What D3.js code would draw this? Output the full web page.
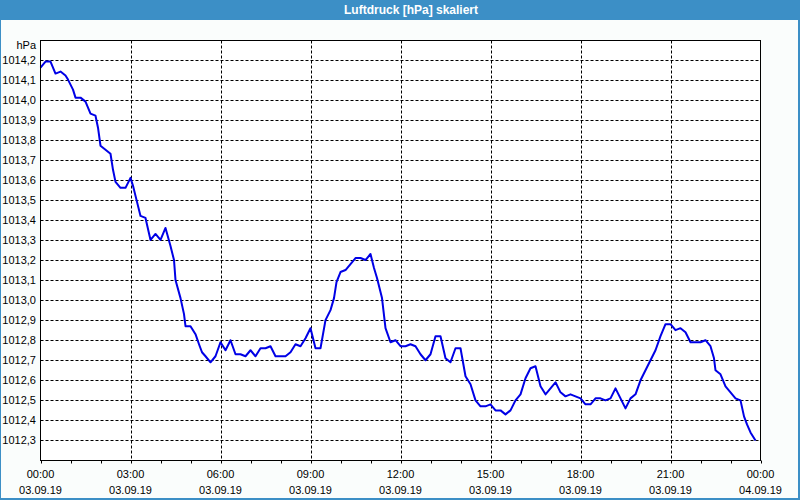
<!DOCTYPE html>
<html><head><meta charset="utf-8">
<script src="https://cdnjs.cloudflare.com/ajax/libs/d3/7.8.5/d3.min.js"></script>
<style>
html,body{margin:0;padding:0;background:#fff;}
svg{display:block;}
text{font-family:"Liberation Sans",Arial,sans-serif;}
</style></head>
<body>
<script>
const title = "Luftdruck [hPa] skaliert";
const unitLabel = "hPa";
// minutes after 03.09.19 00:00
const minutes = [0,10,20,30,40,50,55,65,70,80,90,100,110,115,120,130,140,145,150,160,170,180,185,192,200,210,220,230,240,250,260,267,270,280,287,290,300,310,317,323,330,340,350,360,370,380,390,
400,410,420,430,440,450,460,470,480,490,500,510,520,530,540,550,560,570,580,587,592,600,610,620,630,640,650,660,667,673,683,690,700,710,720,730,740,750,760,770,780,
790,800,810,820,830,840,850,860,870,880,890,900,910,920,930,940,950,960,970,980,990,1000,1010,1020,1030,1040,1050,1060,1070,1080,1090,1100,1110,1120,1130,1140,1150,1160,
1170,1180,1190,1200,1210,1220,1230,1240,1250,1260,1270,1280,1290,1300,1310,1320,1330,1340,1347,1350,1360,1370,1380,1390,1400,1407,1413,1420,1430];
const pressure = [1014.16,1014.19,1014.19,1014.13,1014.14,1014.12,1014.10,1014.05,1014.01,1014.01,1013.99,1013.93,1013.92,1013.86,1013.77,1013.75,1013.73,1013.65,1013.59,1013.56,1013.56,1013.61,1013.57,1013.50,1013.42,1013.41,1013.30,1013.33,1013.30,1013.36,1013.27,1013.20,1013.10,1013.01,1012.93,1012.87,1012.87,1012.83,1012.78,1012.74,1012.72,1012.69,1012.72,1012.79,1012.75,1012.80,1012.73,
1012.73,1012.72,1012.75,1012.72,1012.76,1012.76,1012.77,1012.72,1012.72,1012.72,1012.74,1012.78,1012.77,1012.81,1012.86,1012.76,1012.76,1012.90,1012.95,1013.01,1013.09,1013.14,1013.15,1013.18,1013.21,1013.21,1013.20,1013.23,1013.16,1013.11,1013.01,1012.86,1012.79,1012.80,1012.77,1012.77,1012.78,1012.77,1012.73,1012.70,1012.73,
1012.82,1012.82,1012.71,1012.69,1012.76,1012.76,1012.62,1012.58,1012.50,1012.47,1012.47,1012.48,1012.45,1012.45,1012.43,1012.45,1012.50,1012.53,1012.61,1012.66,1012.67,1012.57,1012.53,1012.56,1012.59,1012.54,1012.52,1012.53,1012.52,1012.51,1012.48,1012.48,1012.51,1012.51,1012.50,1012.51,1012.56,1012.51,
1012.46,1012.51,1012.53,1012.60,1012.65,1012.70,1012.75,1012.82,1012.88,1012.88,1012.85,1012.86,1012.84,1012.79,1012.79,1012.79,1012.80,1012.77,1012.71,1012.65,1012.63,1012.57,1012.54,1012.51,1012.50,1012.42,1012.38,1012.34,1012.30];
const yTicks = [1012.3,1012.4,1012.5,1012.6,1012.7,1012.8,1012.9,1013.0,1013.1,1013.2,1013.3,1013.4,1013.5,1013.6,1013.7,1013.8,1013.9,1014.0,1014.1,1014.2];
const xTickTimes = ["00:00","03:00","06:00","09:00","12:00","15:00","18:00","21:00","00:00"];
const xTickDates = ["03.09.19","03.09.19","03.09.19","03.09.19","03.09.19","03.09.19","03.09.19","03.09.19","04.09.19"];

const W = 800, H = 500;
const L = 40.5, R = 760.5, T = 40.5, B = 460.5;
const svg = d3.select("body").append("svg").attr("width", W).attr("height", H);

// frame & title
svg.append("rect").attr("x",0).attr("y",0).attr("width",W).attr("height",H).attr("fill","#3c8fc6");
svg.append("rect").attr("x",1).attr("y",20).attr("width",W-3).attr("height",H-22).attr("fill","#fafdfc");
svg.append("text").attr("x",411).attr("y",13.5).attr("text-anchor","middle")
  .attr("fill","#fff").attr("font-weight","bold").attr("font-size","12px").text(title);

const x = d3.scaleLinear().domain([0, 1440]).range([L, R]);
const y = d3.scaleLinear().domain([1012.2, 1014.3]).range([B, T - 1]);

svg.append("rect").attr("x",L).attr("y",T).attr("width",R-L).attr("height",B-T).attr("fill","#fff");

// horizontal grid
svg.append("g").selectAll("line").data(yTicks).join("line")
  .attr("x1",L).attr("x2",R)
  .attr("y1",d=>Math.round(y(d))+0.5).attr("y2",d=>Math.round(y(d))+0.5)
  .attr("stroke","#000").attr("stroke-dasharray","3,2");
// vertical grid
const majors = d3.range(180, 1440, 180);
svg.append("g").selectAll("line").data(majors).join("line")
  .attr("x1",d=>Math.round(x(d))+0.5).attr("x2",d=>Math.round(x(d))+0.5)
  .attr("y1",T).attr("y2",B)
  .attr("stroke","#000").attr("stroke-dasharray","3,2");

// y labels
svg.append("g").selectAll("text").data(yTicks).join("text")
  .attr("x",36).attr("y",d=>Math.round(y(d))+4)
  .attr("text-anchor","end").attr("font-size","11px").attr("fill","#000")
  .text(d=>d.toFixed(1).replace(".",","));
svg.append("text").attr("x",36).attr("y",T+8).attr("text-anchor","end")
  .attr("font-size","11px").attr("fill","#000").text(unitLabel);

// x axis minor ticks
svg.append("g").selectAll("line").data(d3.range(0, 1441, 60)).join("line")
  .attr("x1",d=>Math.round(x(d))+0.5).attr("x2",d=>Math.round(x(d))+0.5)
  .attr("y1",B).attr("y2",B+3).attr("stroke","#000");

// x labels
const xl = svg.append("g").selectAll("g").data(xTickTimes).join("g")
  .attr("transform",(d,i)=>`translate(${x(i*180)},0)`);
xl.append("text").attr("y",478).attr("text-anchor","middle").attr("font-size","11px").text(d=>d);
xl.append("text").attr("y",494).attr("text-anchor","middle").attr("font-size","11px").text((d,i)=>xTickDates[i]);

// line
const pts = minutes.map((m,i)=>[m, pressure[i]]);
svg.append("path").datum(pts)
  .attr("d", d3.line().x(d=>x(d[0])).y(d=>y(d[1])))
  .attr("fill","none").attr("stroke","#0000e6").attr("stroke-width",2)
  .attr("stroke-linejoin","round");

// plot frame
svg.append("rect").attr("x",L).attr("y",T).attr("width",R-L).attr("height",B-T)
  .attr("fill","none").attr("stroke","#000");
</script>
</body></html>
